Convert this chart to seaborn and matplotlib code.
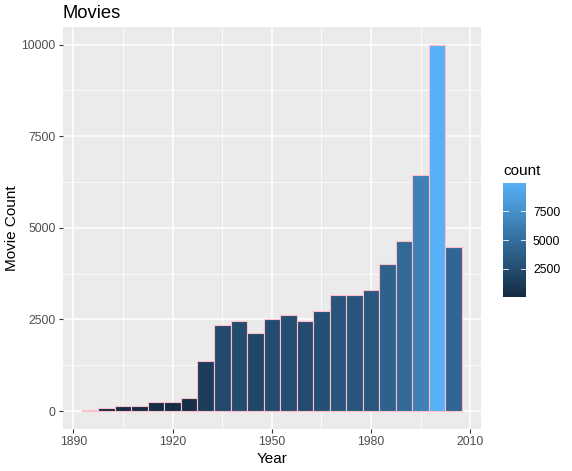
import numpy as np
import pandas as pd
import matplotlib
matplotlib.use("Agg")
import matplotlib.pyplot as plt
import seaborn as sns
from matplotlib.colors import LinearSegmentedColormap, Normalize
from matplotlib.ticker import MultipleLocator

# ---- data ----
bin_starts = [1892.5, 1897.5, 1902.5, 1907.5, 1912.5, 1917.5, 1922.5, 1927.5,
              1932.5, 1937.5, 1942.5, 1947.5, 1952.5, 1957.5, 1962.5, 1967.5,
              1972.5, 1977.5, 1982.5, 1987.5, 1992.5, 1997.5, 2002.5]
counts = [40, 80, 136, 136, 245, 245, 355, 1355, 2340, 2465, 2125, 2505,
          2615, 2470, 2725, 3160, 3160, 3295, 4005, 4630, 6430, 9990, 4470]
binwidth = 5
x_ticks = [1890, 1920, 1950, 1980, 2010]
y_ticks = [0, 2500, 5000, 7500, 10000]
legend_ticks = [2500, 5000, 7500]

df = pd.DataFrame({"year": np.array(bin_starts) + binwidth / 2, "count": counts})
edges = list(bin_starts) + [bin_starts[-1] + binwidth]

W, H = 572, 471
fig = plt.figure(figsize=(W / 100, H / 100), dpi=100)
plt.rcParams["font.family"] = ["Liberation Sans", "DejaVu Sans"]

pl, pr, pt, pb = 62.7, 481, 26.7, 429.3
ax = fig.add_axes([pl / W, (H - pb) / H, (pr - pl) / W, (pb - pt) / H])
ax.set_facecolor("#EBEBEB")

cmap = LinearSegmentedColormap.from_list("gg", ["#132B43", "#56B1F7"])
norm = Normalize(vmin=min(counts), vmax=max(counts))

sns.histplot(data=df, x="year", weights="count", bins=edges, ax=ax,
             edgecolor="#FFC0CB", linewidth=0.8, alpha=1, zorder=3)
for p in ax.patches:
    p.set_facecolor(cmap(norm(p.get_height())))

xr = (bin_starts[0], edges[-1])
xpad = 0.05 * (xr[1] - xr[0])
ax.set_xlim(xr[0] - xpad, xr[1] + xpad)
M = max(counts)
ax.set_ylim(-0.05 * M, 1.05 * M)

ax.set_xticks(x_ticks)
ax.set_yticks(y_ticks)
ax.xaxis.set_minor_locator(MultipleLocator(15))
ax.yaxis.set_minor_locator(MultipleLocator(1250))
ax.grid(which="major", color="white", linewidth=1.1, zorder=0)
ax.grid(which="minor", color="white", linewidth=0.55, zorder=0)
ax.set_axisbelow(True)
for s in ax.spines.values():
    s.set_visible(False)
ax.tick_params(which="major", length=3, width=0.8, color="#333333",
               labelcolor="#4D4D4D", labelsize=8.8, pad=2)
ax.tick_params(which="minor", length=0)

ax.set_xlabel("Year", fontsize=11, color="black", labelpad=3)
ax.set_ylabel("Movie Count", fontsize=11, color="black", labelpad=2)
ax.set_title("Movies", fontsize=13.2, loc="left", color="black", pad=6)

# colorbar legend
cl, cr, ct, cb = 503, 526, 182.7, 297.3
cax = fig.add_axes([cl / W, (H - cb) / H, (cr - cl) / W, (cb - ct) / H])
sm = plt.cm.ScalarMappable(norm=norm, cmap=cmap)
cbar = fig.colorbar(sm, cax=cax, ticks=legend_ticks)
cbar.outline.set_visible(False)
cax.tick_params(length=0, labelsize=8.8, labelcolor="black", pad=5)
for t in legend_ticks:
    cax.plot([0, 0.2], [t, t], color="white", lw=0.6, transform=cax.get_yaxis_transform())
    cax.plot([0.8, 1.0], [t, t], color="white", lw=0.6, transform=cax.get_yaxis_transform())
fig.text(cl / W, 1 - 175 / H, "count", fontsize=11, ha="left", va="baseline")

fig.savefig("out.png", dpi=100)
